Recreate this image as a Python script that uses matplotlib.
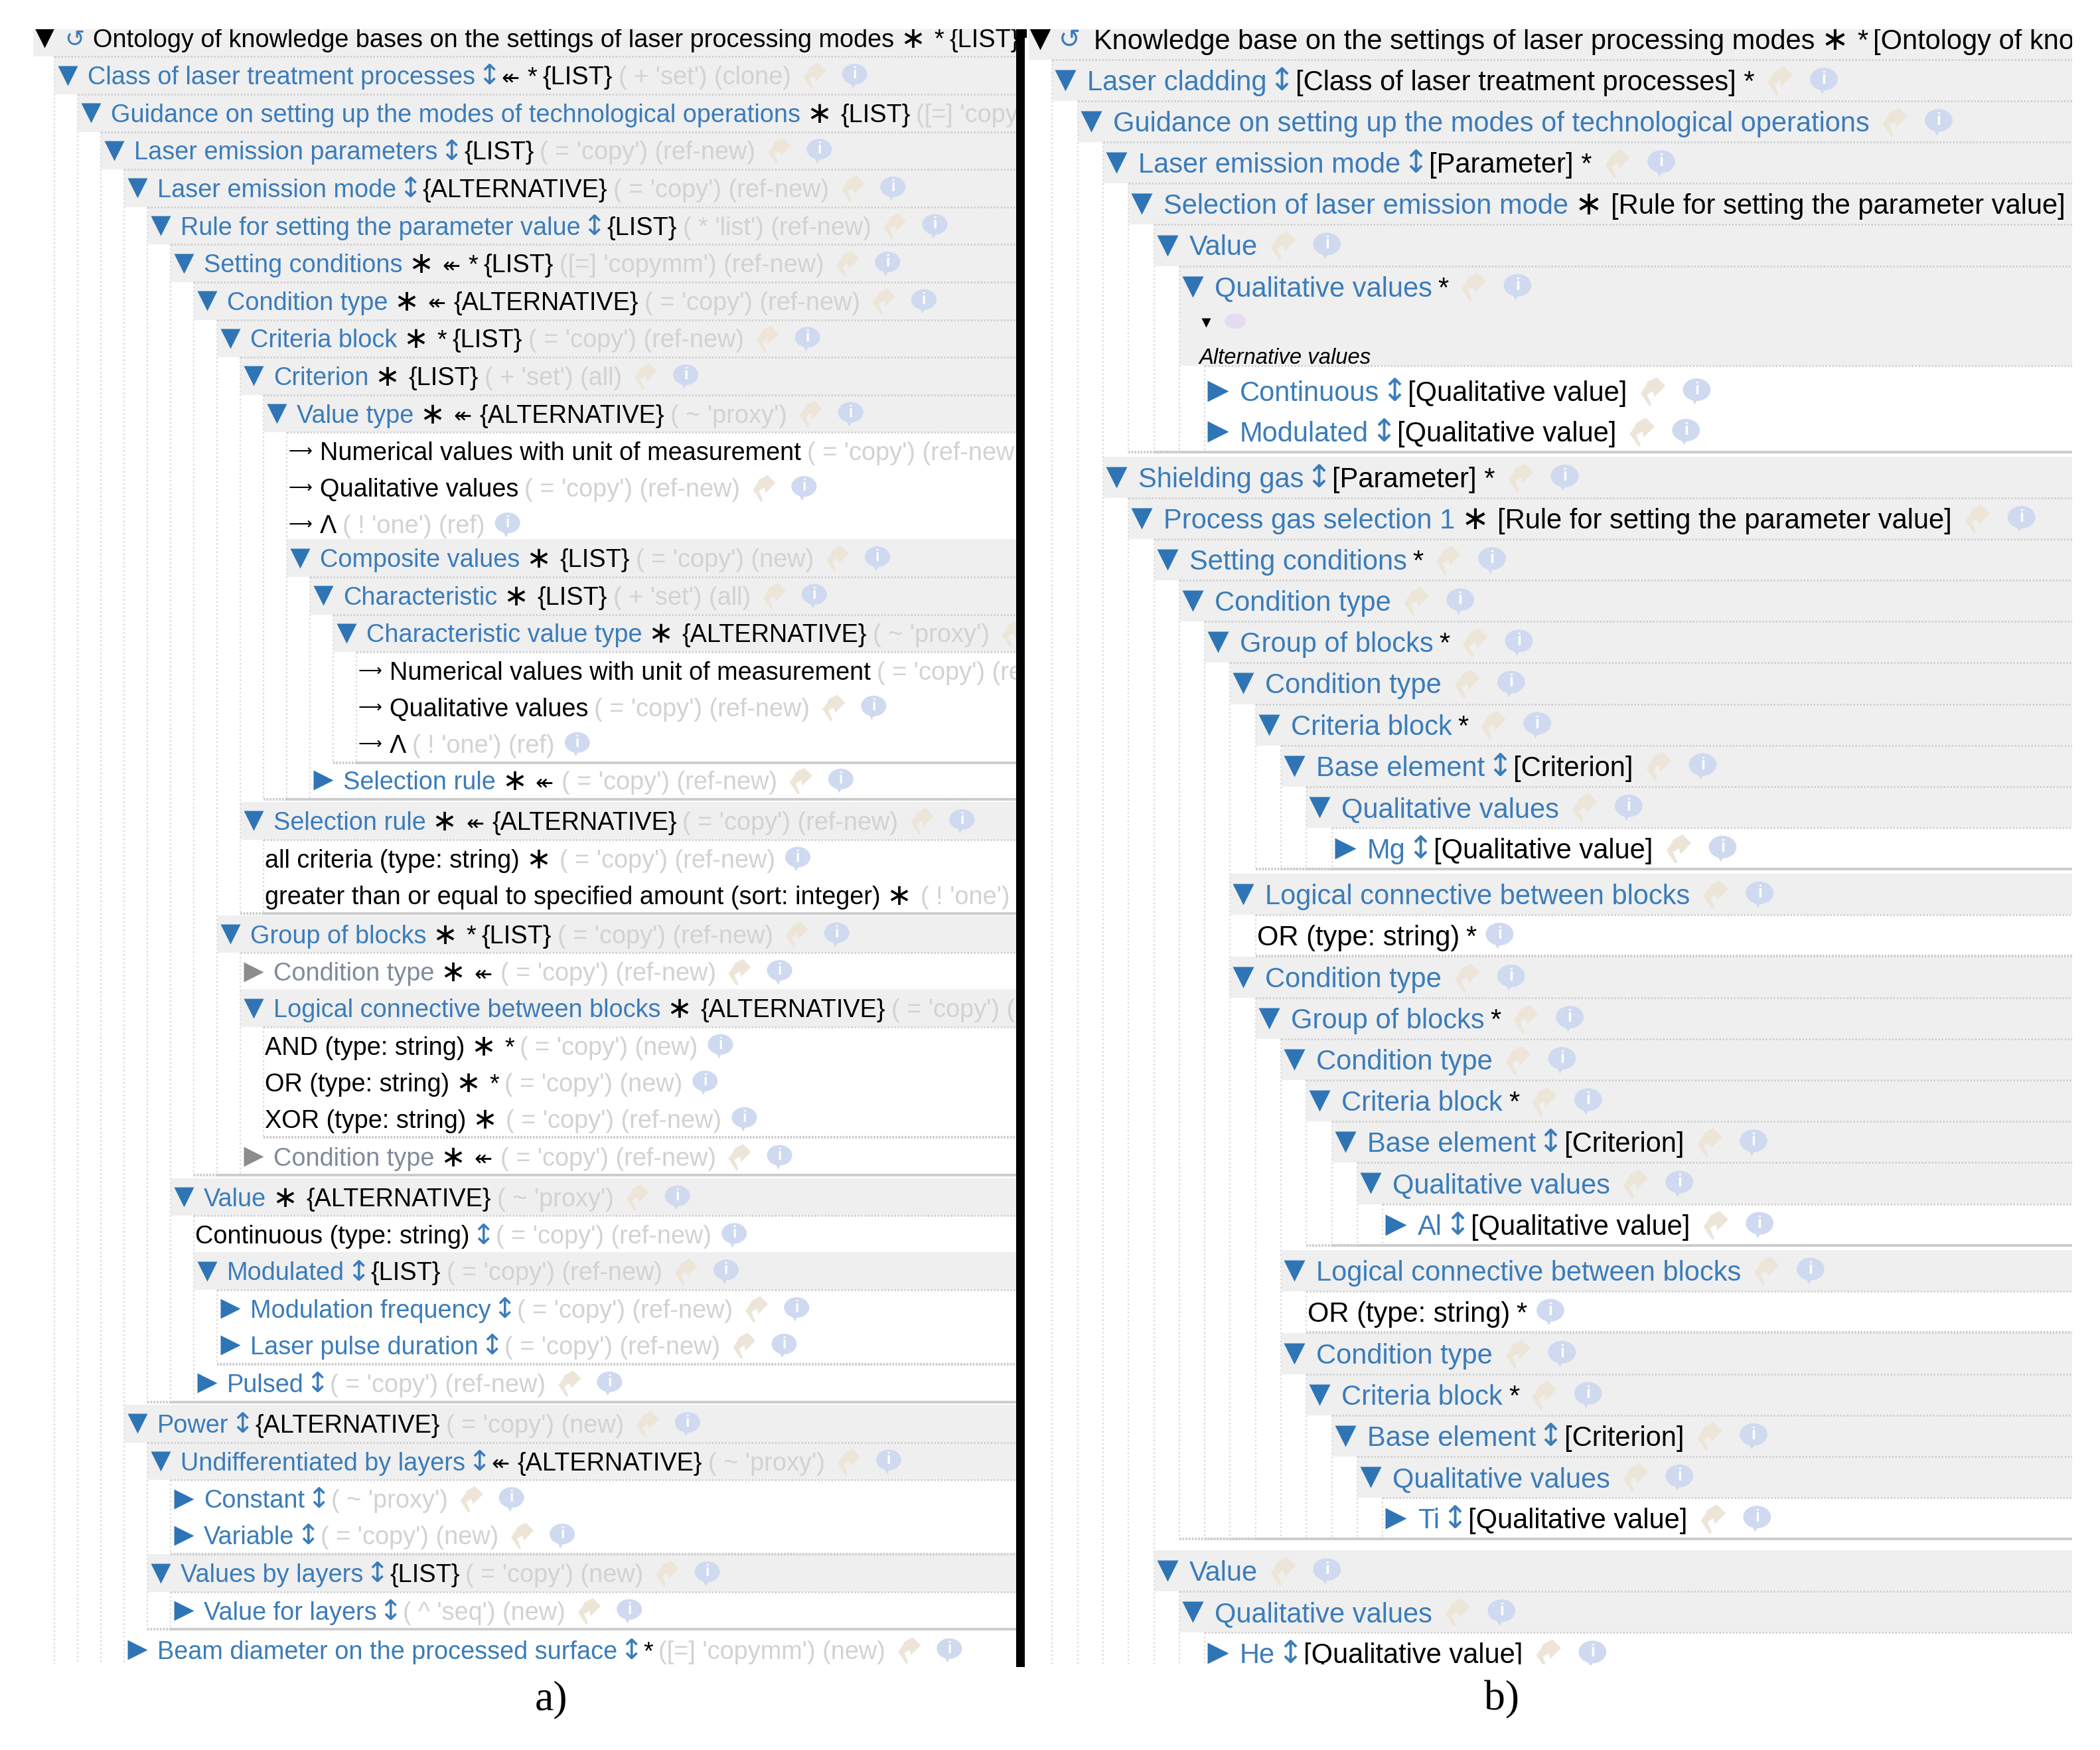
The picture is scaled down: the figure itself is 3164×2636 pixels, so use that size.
import matplotlib
matplotlib.use('Agg')
import matplotlib.pyplot as plt
from matplotlib.patches import Rectangle, Ellipse, Polygon

# panel a) tree, one entry per row
levelsA = [0, 1, 2, 3, 4, 5, 6, 7, 8, 9, 10, 11, 11, 11, 11, 12, 13, 14, 14, 14, 12, 9, 10, 10,
           8, 9, 9, 10, 10, 10, 9, 6, 7, 7, 8, 8, 7, 4, 5, 6, 6, 5, 6, 4]
kindsA = ['root', 'open', 'open', 'open', 'open', 'open', 'open', 'open', 'open', 'open', 'open',
          'pointer', 'pointer', 'pointerInfo', 'open', 'open', 'open', 'pointer', 'pointer', 'pointerInfo',
          'closed', 'open', 'plain', 'plain', 'open', 'muted', 'open', 'plain', 'plain', 'plain', 'muted',
          'open', 'plain', 'open', 'closed', 'closed', 'closed', 'open', 'open', 'closed', 'closed',
          'open', 'closed', 'closed']
namesA = ['Ontology of knowledge bases on the settings of laser processing modes',
          'Class of laser treatment processes',
          'Guidance on setting up the modes of technological operations',
          'Laser emission parameters',
          'Laser emission mode',
          'Rule for setting the parameter value',
          'Setting conditions',
          'Condition type',
          'Criteria block',
          'Criterion',
          'Value type',
          'Numerical values with unit of measurement',
          'Qualitative values',
          'Λ',
          'Composite values',
          'Characteristic',
          'Characteristic value type',
          'Numerical values with unit of measurement',
          'Qualitative values',
          'Λ',
          'Selection rule',
          'Selection rule',
          'all criteria (type: string)',
          'greater than or equal to specified amount (sort: integer)',
          'Group of blocks',
          'Condition type',
          'Logical connective between blocks',
          'AND (type: string)',
          'OR (type: string)',
          'XOR (type: string)',
          'Condition type',
          'Value',
          'Continuous (type: string)',
          'Modulated',
          'Modulation frequency',
          'Laser pulse duration',
          'Pulsed',
          'Power',
          'Undifferentiated by layers',
          'Constant',
          'Variable',
          'Values by layers',
          'Value for layers',
          'Beam diameter on the processed surface']
marksA = ['s*', 'u<*', 's', 'u', 'u', 'u', 's<*', 's<', 's*', 's', 's<', '', '', '', 's', 's', 's', '', '', '',
          's<', 's<', 's', 's', 's*', 's<', 's', 's*', 's*', 's', 's<', 's', 'u', 'u', 'u', 'u', 'u', 'u', 'u<',
          'u', 'u', 'u', 'u', 'u*']
tailsA = ['{LIST}', '{LIST}', '{LIST}', '{LIST}', '{ALTERNATIVE}', '{LIST}', '{LIST}', '{ALTERNATIVE}', '{LIST}',
          '{LIST}', '{ALTERNATIVE}', '', '', '', '{LIST}', '{LIST}', '{ALTERNATIVE}', '', '', '',
          '', '{ALTERNATIVE}', '', '', '{LIST}', '', '{ALTERNATIVE}', '', '', '', '', '{ALTERNATIVE}', '', '{LIST}',
          '', '', '', '{ALTERNATIVE}', '{ALTERNATIVE}', '', '', '{LIST}', '', '']
# the long ones are cut where the screenshot ends
grayA = ['', "( + 'set') (clone)", "([=] 'copy", "( = 'copy') (ref-new)", "( = 'copy') (ref-new)",
         "( * 'list') (ref-new)", "([=] 'copymm') (ref-new)", "( = 'copy') (ref-new)", "( = 'copy') (ref-new)",
         "( + 'set') (all)", "( ~ 'proxy')", "( = 'copy') (ref-new", "( = 'copy') (ref-new)", "( ! 'one') (ref)",
         "( = 'copy') (new)", "( + 'set') (all)", "( ~ 'proxy')", "( = 'copy') (re", "( = 'copy') (ref-new)",
         "( ! 'one') (ref)", "( = 'copy') (ref-new)", "( = 'copy') (ref-new)", "( = 'copy') (ref-new)", "( ! 'one')",
         "( = 'copy') (ref-new)", "( = 'copy') (ref-new)", "( = 'copy') (", "( = 'copy') (new)",
         "( = 'copy') (new)", "( = 'copy') (ref-new)", "( = 'copy') (ref-new)", "( ~ 'proxy')", "( = 'copy') (ref-new)",
         "( = 'copy') (ref-new)", "( = 'copy') (ref-new)", "( = 'copy') (ref-new)", "( = 'copy') (ref-new)",
         "( = 'copy') (new)", "( ~ 'proxy')", "( ~ 'proxy')", "( = 'copy') (new)", "( = 'copy') (new)",
         "( ^ 'seq') (new)", "([=] 'copymm') (new)"]

# panel b) tree
levelsB = [0, 1, 2, 3, 4, 5, 6, 7, 7, 3, 4, 5, 6, 7, 8, 9, 10, 11, 12, 8, 9, 8, 9, 10, 11, 12, 13, 14,
           10, 11, 10, 11, 12, 13, 14, 5, 6, 7]
kindsB = ['root', 'open', 'open', 'open', 'open', 'open', 'open', 'closed', 'closed', 'open', 'open', 'open',
          'open', 'open', 'open', 'open', 'open', 'open', 'closed', 'open', 'plain', 'open', 'open', 'open',
          'open', 'open', 'open', 'closed', 'open', 'plain', 'open', 'open', 'open', 'open', 'closed',
          'open', 'open', 'closed']
namesB = ['Knowledge base on the settings of laser processing modes',
          'Laser cladding',
          'Guidance on setting up the modes of technological operations',
          'Laser emission mode',
          'Selection of laser emission mode',
          'Value',
          'Qualitative values',
          'Continuous',
          'Modulated',
          'Shielding gas',
          'Process gas selection 1',
          'Setting conditions',
          'Condition type',
          'Group of blocks',
          'Condition type',
          'Criteria block',
          'Base element',
          'Qualitative values',
          'Mg',
          'Logical connective between blocks',
          'OR (type: string)',
          'Condition type',
          'Group of blocks',
          'Condition type',
          'Criteria block',
          'Base element',
          'Qualitative values',
          'Al',
          'Logical connective between blocks',
          'OR (type: string)',
          'Condition type',
          'Criteria block',
          'Base element',
          'Qualitative values',
          'Ti',
          'Value',
          'Qualitative values',
          'He']
marksB = ['s*', 'u', '', 'u', 's', '', '*', 'u', 'u', 'u', 's', '*', '', '*', '', '*', 'u', '', 'u', '', '*',
          '', '*', '', '*', 'u', '', 'u', '', '*', '', '*', 'u', '', 'u', '', '', 'u']
tailsB = ['[Ontology of kno', '[Class of laser treatment processes] *', '',
          '[Parameter] *', '[Rule for setting the parameter value]', '', '', '[Qualitative value]',
          '[Qualitative value]', '[Parameter] *', '[Rule for setting the parameter value]', '', '', '', '', '',
          '[Criterion]', '', '[Qualitative value]', '', '', '', '', '', '', '[Criterion]', '', '[Qualitative value]',
          '', '', '', '', '[Criterion]', '', '[Qualitative value]', '', '', '[Qualitative value]']
noteRowB = 6
noteTextB = 'Alternative values'
panelLabels = ['a)', 'b)']

W, H = 3164, 2636
BLUE = '#3b7cba'
MUTED = '#7f8b9b'
TRI = '#2f75b5'
SHADE = '#efefef'
GRAY = '#d2d2d2'
DOT = '#cccccc'
SHARE = '#eee5d9'
INFO = '#cfdaf0'
NOTE_EXTRA = 1.55  # extra height of the row with the note, in shaded rows
# outline of the little curved "share" arrow, around its centre
SHARE_SHAPE = [(-5, 21), (-17, 3), (-10, -7), (-8, -12), (5, -19), (17, -7), (2, 8), (0, 0), (-8, 5), (-2, 19)]

plt.rcParams['font.family'] = ['Liberation Sans', 'DejaVu Sans']

fig = plt.figure(figsize=(W / 100, H / 100), dpi=100, facecolor='white')
renderer = fig.canvas.get_renderer()


def panelAxes(x0, x1, y0, y1):
    ax = fig.add_axes([x0 / W, 1 - y1 / H, (x1 - x0) / W, (y1 - y0) / H])
    ax.set_xlim(x0, x1)
    ax.set_ylim(y1, y0)
    ax.axis('off')
    return ax


def putText(ax, x, y, s, size, color, gap=9, baseSize=None, **kw):
    # y is the row centre, text goes on a baseline so all pieces line up
    base = baseSize if baseSize else size
    t = ax.text(x, y + base * 0.50, s, fontsize=size, color=color, va='baseline', ha='left', clip_on=True, **kw)
    return x + t.get_window_extent(renderer).width + gap


def putMarks(ax, x, y, marks, size):
    for m in marks:
        if m == 'u':
            x = putText(ax, x - 6, y, '↕', size * 1.12, BLUE, gap=1, baseSize=size, family='DejaVu Sans')
        elif m == 's':
            x = putText(ax, x, y + 1, '∗', size * 1.2, 'k', gap=13, baseSize=size, family='DejaVu Sans')
        elif m == '<':
            x = putText(ax, x, y, '↞', size * 0.85, 'k', gap=12, baseSize=size, family='DejaVu Sans')
        elif m == '*':
            x = putText(ax, x, y, '*', size, 'k', gap=8)
    return x


def putIcons(ax, x, y, size, rightEdge, withShare=True):
    k = size / 27.3
    if withShare:
        pts = [(x + 27 * k + px * k, y + py * k) for px, py in SHARE_SHAPE]
        ax.add_patch(Polygon(pts, closed=True, fc=SHARE, ec='none', zorder=2))
        x += 64 * k
    else:
        x += 2
    if x + 23 * k > rightEdge - 6:
        return
    ax.add_patch(Ellipse((x + 23 * k, y - 2), 38 * k, 31 * k, fc=INFO, ec='none', zorder=2))
    ax.plot([x + 20 * k], [y + 14 * k], 'v', ms=7 * k, color=INFO, mec='none', zorder=2)
    ax.text(x + 23 * k, y - 2, 'i', fontsize=size * 0.6, color='white', fontweight='bold', ha='center', va='center',
            clip_on=True, zorder=3)


def drawTree(ax, levels, kinds, names, marks, tails, gray, xRoot, step, yRoot, shadeH, plainH, size, triSize,
             textDx, rootDx, rightEdge, noteIndex=-1, noteText=None):
    ys = []
    y = yRoot
    for i in range(len(levels)):
        ys.append(y)
        h = shadeH if kinds[i] in ('root', 'open') else plainH
        if kinds[i] == 'pointerInfo':
            h -= 4
        if i == noteIndex:
            h += NOTE_EXTRA * shadeH - 1
        if i + 1 < len(levels) and levels[i + 1] < levels[i]:
            h += 2.0 * (levels[i] - levels[i + 1])
        y += h

    half = shadeH / 2

    # shaded bands under the open rows
    for i in range(len(levels)):
        left = xRoot + levels[i] * step - 20
        if kinds[i] in ('root', 'open'):
            bottom = ys[i] + half
            if i == noteIndex:
                bottom += NOTE_EXTRA * shadeH - 8
            ax.add_patch(Rectangle((left, ys[i] - half), rightEdge - left, bottom - ys[i] + half, fc=SHADE, ec='none',
                                   zorder=0))

    # dotted guides
    for i in range(len(levels)):
        if kinds[i] not in ('root', 'open'):
            continue
        last = i
        for j in range(i + 1, len(levels)):
            if levels[j] <= levels[i]:
                break
            last = j
        xg = xRoot + (levels[i] + 1) * step - 20
        endY = ys[last] + half if levels[i] > 0 else ax.get_ylim()[0]
        topY = ys[i] + half
        if i == noteIndex:
            topY += NOTE_EXTRA * shadeH - 8
        ax.plot([xg, xg], [topY, endY], color='#dcdcdc', lw=1.6, ls=(0, (1.2, 1.6)), zorder=1)
        ax.plot([xg, rightEdge], [topY, topY], color=DOT, lw=1.8, ls=(0, (1.0, 1.0)), zorder=1)
        if last > i:
            ax.plot([xg, rightEdge], [ys[last] + half, ys[last] + half], color=DOT, lw=2.8, ls=(0, (0.7, 0.5)), zorder=1)

    for i in range(len(levels)):
        kind = kinds[i]
        c = xRoot + levels[i] * step
        y = ys[i]
        name = names[i]
        if kind == 'root':
            ax.plot([c], [y], 'v', ms=triSize, color='k', mec='none', zorder=3)
            ax.text(c + 45, y + 2, '↺', fontsize=size * 0.95, color=BLUE, ha='center', va='center',
                    family='DejaVu Sans', clip_on=True)
            x = putText(ax, c + rootDx, y, name, size, 'k')
        elif kind in ('open', 'closed', 'muted'):
            mk = 'v' if kind == 'open' else '>'
            col = '#8c8c8c' if kind == 'muted' else TRI
            ax.plot([c], [y], mk, ms=triSize, color=col, mec='none', zorder=3)
            x = putText(ax, c + textDx, y, name, size, MUTED if kind == 'muted' else BLUE)
        elif kind == 'plain':
            x = putText(ax, c - 18, y, name, size, 'k')
        else:
            ax.text(c - 17, y, '⟶', fontsize=size * 0.66, color='k', va='center', family='DejaVu Sans', clip_on=True)
            x = putText(ax, c + textDx, y, name, size, 'k')
        x = putMarks(ax, x, y, marks[i], size)
        if tails[i]:
            x = putText(ax, x, y, tails[i], size, 'k')
        if gray[i]:
            x = putText(ax, x, y, gray[i], size, GRAY)
        if kind != 'root':
            putIcons(ax, x, y, size, rightEdge, kind not in ('plain', 'pointerInfo'))
        if i == noteIndex:
            nx = xRoot + (levels[i] + 1) * step - 28
            ax.plot([nx + 10], [y + 0.87 * shadeH], 'v', ms=10, color='k', mec='none', zorder=3)
            ax.add_patch(Ellipse((nx + 54, y + 0.84 * shadeH), 32, 23, fc='#e6dcf2', ec='none', zorder=3))
            putText(ax, nx, y + 1.69 * shadeH, noteText, size * 0.79, 'k', style='italic')


axA = panelAxes(50, 1531, 44, 2507)
drawTree(axA, levelsA, kindsA, namesA, marksA, tailsA, grayA, 67, 35, 57, 56.6, 55, 27.3, 21, 30, 73, 1531)

axB = panelAxes(1550, 3122, 44, 2507)
grayB = [''] * len(levelsB)
drawTree(axB, levelsB, kindsB, namesB, marksB, tailsB, grayB, 1567, 38.3, 59, 62.1, 61, 30, 23, 33, 81, 3122,
         noteRowB, noteTextB)

# thick divider between the two screenshots
fig.add_artist(Rectangle((1531 / W, 1 - 2511 / H), 13 / W, (2511 - 44) / H, fc='k', ec='none', transform=fig.transFigure))
fig.add_artist(Rectangle((1544 / W, 1 - 57 / H), 3 / W, 13 / H, fc='k', ec='none', transform=fig.transFigure))

fig.text(830 / W, 1 - 2560 / H, panelLabels[0], family='Liberation Serif', fontsize=46, ha='center', va='center', color='k')
fig.text(2262 / W, 1 - 2560 / H, panelLabels[1], family='Liberation Serif', fontsize=46, ha='center', va='center', color='k')

fig.savefig('out.png', dpi=100, facecolor='white')
